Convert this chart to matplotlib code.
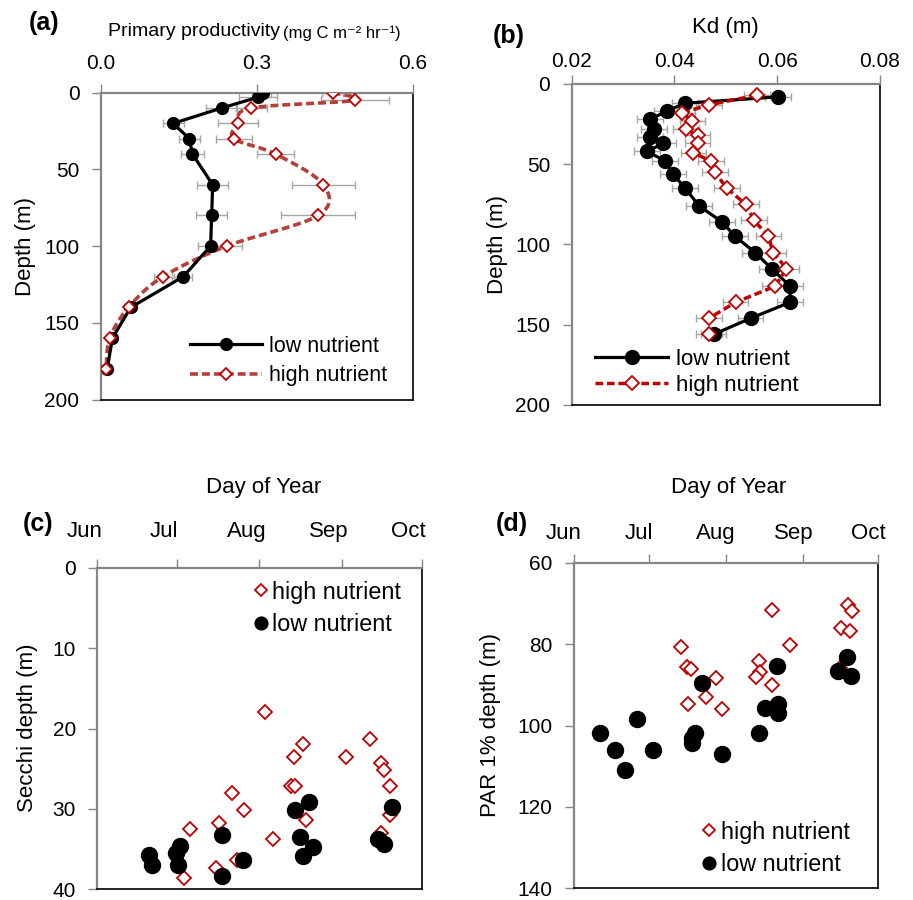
import matplotlib
matplotlib.use('Agg')
import matplotlib.pyplot as plt
import matplotlib.transforms as mtransforms
import numpy as np

plt.rcParams['font.family'] = ['Liberation Sans', 'DejaVu Sans']

# ---- data: (a) primary productivity profiles ----
pp_depth_low = [0, 3, 10, 20, 30, 40, 60, 80, 100, 120, 140, 160, 180]
pp_low = [0.312, 0.302, 0.232, 0.139, 0.170, 0.176, 0.215, 0.213, 0.211, 0.158, 0.057, 0.022, 0.012]
pp_low_err = [0.015, 0.037, 0.03, 0.02, 0.02, 0.022, 0.03, 0.03, 0.025, 0.018, 0.008, 0.004, 0.003]
pp_depth_high = [0, 5, 10, 20, 30, 40, 60, 80, 100, 120, 140, 160, 180]
pp_high = [0.446, 0.489, 0.289, 0.264, 0.256, 0.336, 0.428, 0.418, 0.242, 0.119, 0.053, 0.017, 0.010]
pp_high_err = [0.02, 0.066, 0.03, 0.038, 0.035, 0.035, 0.06, 0.071, 0.03, 0.017, 0.008, 0.004, 0.003]

# ---- data: (b) Kd profiles ----
kd_depth_low = [8, 12, 17, 22, 28, 33, 37, 42, 48, 56, 65, 76, 86, 95, 105, 115, 126, 136, 146, 156]
kd_low = [0.0602, 0.0420, 0.0385, 0.0352, 0.0360, 0.0352, 0.0378, 0.0347, 0.0382, 0.0397,
          0.0421, 0.0448, 0.0493, 0.0518, 0.0557, 0.0589, 0.0625, 0.0625, 0.0548, 0.0476]
kd_depth_high = [7, 13, 18, 23, 28, 32, 37, 43, 48, 55, 65, 75, 85, 95, 105, 115, 126, 136, 146, 156]
kd_high = [0.0560, 0.0467, 0.0415, 0.0435, 0.0422, 0.0445, 0.0445, 0.0437, 0.0471, 0.0479,
           0.0502, 0.0539, 0.0555, 0.0583, 0.0592, 0.0618, 0.0596, 0.0519, 0.0467, 0.0467]
kd_err = 0.0025

# ---- data: (c) Secchi depth by day of year ----
secchi_day_high = [215.2, 229.3, 226.1, 254.5, 245.4, 258.6, 259.8, 262.0, 224.7, 226.5, 202.7, 207.0,
                   262.0, 230.3, 197.6, 186.7, 218.0, 258.6, 204.5, 196.6, 184.7]
secchi_high = [18.0, 21.9, 23.6, 21.3, 23.6, 24.3, 25.2, 27.1, 27.2, 27.2, 28.0, 30.1,
               30.8, 31.4, 31.7, 32.5, 33.7, 33.0, 36.3, 37.4, 38.6]
secchi_day_low = [231.5, 226.5, 262.7, 198.9, 228.1, 257.5, 259.8, 233.2, 229.4, 206.8,
                  183.2, 181.7, 182.5, 171.6, 172.5, 198.9]
secchi_low = [29.1, 30.1, 29.8, 33.3, 33.5, 33.7, 34.4, 34.8, 35.9, 36.3,
              34.6, 35.5, 37.0, 35.7, 37.0, 38.4]

# ---- data: (d) PAR 1% depth by day of year ----
par_day_high = [231.4, 261.9, 263.3, 258.9, 262.5, 194.9, 238.5, 226.1, 197.3, 198.9, 226.7,
                225.1, 208.9, 231.4, 204.9, 197.9, 211.3, 258.5]
par_high = [71.5, 70.4, 71.8, 76.1, 76.9, 80.8, 80.2, 84.1, 85.6, 86.1, 86.8,
            88.0, 88.4, 90.0, 93.1, 94.7, 96.0, 85.8]
par_day_low = [261.5, 233.4, 257.8, 263.2, 203.3, 228.7, 233.8, 233.8, 177.4, 162.4, 226.3,
               200.6, 199.3, 199.3, 168.5, 183.6, 211.3, 172.5]
par_low = [83.1, 85.3, 86.5, 87.8, 89.6, 95.6, 94.7, 97.0, 98.5, 101.9, 101.9,
           101.9, 103.1, 104.2, 105.9, 105.9, 106.9, 111.0]

month_days = [152, 182, 213, 244, 274]
month_labels = ['Jun', 'Jul', 'Aug', 'Sep', 'Oct']

W, H = 913, 900
GREY = '#868686'
RED = '#c00000'
TICK_FS = 15
LABEL_FS = 16


def px_axes(fig, left, top, right, bottom):
    return fig.add_axes([left / W, 1 - bottom / H, (right - left) / W, (bottom - top) / H])


def style_axes(ax, xpad):
    ax.xaxis.tick_top()
    ax.xaxis.set_label_position('top')
    for side in ['left', 'top']:
        ax.spines[side].set_color(GREY)
        ax.spines[side].set_linewidth(1.6)
    for side in ['right', 'bottom']:
        ax.spines[side].set_color('black')
        ax.spines[side].set_linewidth(1.2)
    ax.tick_params(direction='out', length=6.5, width=1, color=GREY, labelsize=TICK_FS)
    ax.tick_params(axis='x', pad=xpad)
    ax.tick_params(axis='y', pad=9)
    ax.invert_yaxis()


def month_axis(ax, shift_px):
    # month names sit a little left of their ticks, as in the original
    ax.set_xticks(month_days)
    ax.set_xticklabels(month_labels, fontsize=16)
    offset = mtransforms.ScaledTranslation(-shift_px / 100, 0, ax.figure.dpi_scale_trans)
    for lab in ax.get_xticklabels():
        lab.set_transform(lab.get_transform() + offset)


def smooth_curve(x, y, n=20):
    # Excel-like smoothed line: cubic Bezier segments with Catmull-Rom control points
    pts = np.column_stack([x, y]).astype(float)
    pts = np.vstack([pts[0], pts, pts[-1]])
    out = []
    t = np.linspace(0, 1, n)[:, None]
    for i in range(1, len(pts) - 2):
        p0, p1, p2, p3 = pts[i - 1], pts[i], pts[i + 1], pts[i + 2]
        c1 = p1 + (p2 - p0) / 6
        c2 = p2 - (p3 - p1) / 6
        seg = (1 - t) ** 3 * p1 + 3 * (1 - t) ** 2 * t * c1 + 3 * (1 - t) * t ** 2 * c2 + t ** 3 * p2
        out.append(seg)
    out = np.vstack(out)
    return out[:, 0], out[:, 1]


def fig_legend(ax, handles, labels, x, y, fs, **kw):
    ax.legend(handles, labels, loc='upper left', bbox_to_anchor=(x / W, 1 - y / H),
              bbox_transform=ax.figure.transFigure, frameon=False, fontsize=fs,
              borderpad=0, borderaxespad=0, **kw)


def label(x, y, s, **kw):
    fig.text(x / W, 1 - y / H, s, ha='center', va='center', **kw)


fig = plt.figure(figsize=(W / 100, H / 100), dpi=100)

# ---------- (a) ----------
ax = px_axes(fig, 101, 92.7, 412.7, 399.5)
ax.errorbar(pp_low, pp_depth_low, xerr=pp_low_err, fmt='none', ecolor='#a6a6a6',
            elinewidth=1, capsize=3, zorder=1)
ax.errorbar(pp_high, pp_depth_high, xerr=pp_high_err, fmt='none', ecolor='#a6a6a6',
            elinewidth=1, capsize=3, zorder=1)
l_low, = ax.plot(pp_low, pp_depth_low, color='black', lw=2.3, marker='o', ms=8.5, zorder=3)
sx, sy = smooth_curve(pp_high, pp_depth_high)
ax.plot(sx, sy, color='#b5403a', lw=2.6, dashes=(2.2, 1.1), zorder=2)
ax.plot(pp_high, pp_depth_high, ls='none', marker='D', ms=6.5, mfc='white', mec=RED,
        mew=1.3, zorder=4)
h_high, = ax.plot([], [], color='#b5403a', lw=2.6, dashes=(2.2, 1.1), marker='D', ms=6.5,
                  mfc='white', mec=RED, mew=1.3)
ax.set_xlim(0, 0.6)
ax.set_ylim(0, 200)
style_axes(ax, xpad=8)
ax.set_xticks([0, 0.3, 0.6])
ax.set_xticklabels(['0.0', '0.3', '0.6'])
ax.set_yticks([0, 50, 100, 150, 200])
fig_legend(ax, [l_low, h_high], ['low nutrient', 'high nutrient'], 190, 336, 15.5,
           handlelength=3.35, handletextpad=0.33, labelspacing=0.38)
label(44, 23, '(a)', fontsize=18, fontweight='bold')
fig.text(108 / W, 1 - 32 / H, 'Primary productivity', fontsize=14, ha='left', va='center')
fig.text(283 / W, 1 - 33 / H, '(mg C m\u207b\u00b2 hr\u207b\u00b9)', fontsize=12, ha='left', va='center')
label(26, 246, 'Depth (m)', fontsize=LABEL_FS, rotation=90)

# ---------- (b) ----------
ax = px_axes(fig, 571.7, 84, 880, 405)
ax.errorbar(kd_low, kd_depth_low, xerr=kd_err, fmt='none', ecolor='#a6a6a6',
            elinewidth=1, capsize=3, zorder=1)
ax.errorbar(kd_high, kd_depth_high, xerr=kd_err, fmt='none', ecolor='#a6a6a6',
            elinewidth=1, capsize=3, zorder=1)
l_low, = ax.plot(kd_low, kd_depth_low, color='black', lw=2.3, marker='o', ms=10, zorder=3)
h_high, = ax.plot(kd_high, kd_depth_high, color=RED, lw=2.5, dashes=(2.2, 1.1), marker='D',
                  ms=6.8, mfc='white', mec=RED, mew=1.3, zorder=4)
ax.set_xlim(0.02, 0.08)
ax.set_ylim(0, 200)
style_axes(ax, xpad=2.5)
ax.set_xticks([0.02, 0.04, 0.06, 0.08])
ax.set_yticks([0, 50, 100, 150, 200])
fig_legend(ax, [l_low, h_high], ['low nutrient', 'high nutrient'], 595, 349, 16,
           handlelength=3.3, handletextpad=0.35, labelspacing=0.22)
label(509, 36, '(b)', fontsize=18, fontweight='bold')
label(725, 27, 'Kd (m)', fontsize=LABEL_FS)
label(497, 245, 'Depth (m)', fontsize=LABEL_FS, rotation=90)

# ---------- (c) ----------
ax = px_axes(fig, 97.3, 567.7, 421.7, 889.3)
h_high, = ax.plot(secchi_day_high, secchi_high, ls='none', marker='D', ms=7.5, mfc='white',
                  mec=RED, mew=1.3, zorder=2)
l_low, = ax.plot(secchi_day_low, secchi_low, ls='none', marker='o', ms=11.5, color='black',
                 zorder=3)
ax.set_xlim(152, 274)
ax.set_ylim(0, 40)
style_axes(ax, xpad=12)
month_axis(ax, 13)
ax.set_yticks([0, 10, 20, 30, 40])
fig_legend(ax, [h_high, l_low], ['high nutrient', 'low nutrient'], 251.4, 580.6, 16.8,
           handlelength=0.8, handletextpad=0.1, labelspacing=0.4, markerscale=0.8)
label(38, 524, '(c)', fontsize=18, fontweight='bold')
label(264, 487, 'Day of Year', fontsize=LABEL_FS)
label(28, 728, 'Secchi depth (m)', fontsize=LABEL_FS, rotation=90)

# ---------- (d) ----------
ax = px_axes(fig, 574, 562.7, 878.3, 888.3)
h_high, = ax.plot(par_day_high, par_high, ls='none', marker='D', ms=7.5, mfc='white',
                  mec=RED, mew=1.3, zorder=2)
l_low, = ax.plot(par_day_low, par_low, ls='none', marker='o', ms=11.5, color='black', zorder=3)
ax.set_xlim(152, 274)
ax.set_ylim(60, 140)
style_axes(ax, xpad=7)
month_axis(ax, 10)
ax.set_yticks([60, 80, 100, 120, 140])
fig_legend(ax, [h_high, l_low], ['high nutrient', 'low nutrient'], 699.7, 820.6, 16.8,
           handlelength=0.8, handletextpad=0.1, labelspacing=0.42, markerscale=0.8)
label(512, 524, '(d)', fontsize=18, fontweight='bold')
label(729, 487, 'Day of Year', fontsize=LABEL_FS)
label(490, 725, 'PAR 1% depth (m)', fontsize=LABEL_FS, rotation=90)

fig.savefig('out.png', dpi=100)
